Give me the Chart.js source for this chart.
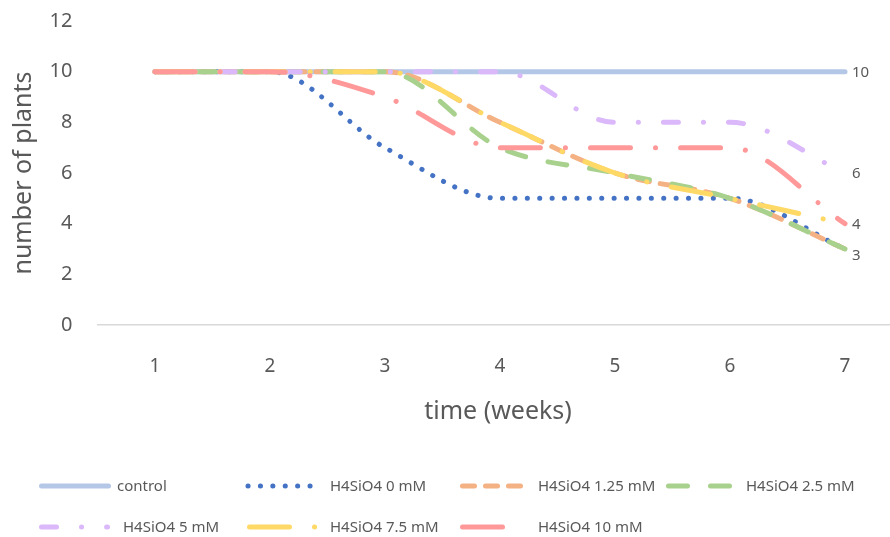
<!DOCTYPE html>
<html>
<head>
<meta charset="utf-8">
<script src="https://cdn.jsdelivr.net/npm/chart.js@4/dist/chart.umd.min.js"></script>
<style>
  html, body { margin: 0; padding: 0; background: #fff; overflow: hidden; }
  #wrap { width: 910px; height: 537px; }
</style>
</head>
<body>
<div id="wrap"><canvas id="c" width="910" height="537"></canvas></div>
<script>
// Weeks on the x axis
const weeks = ['1', '2', '3', '4', '5', '6', '7'];

// Number of surviving plants per treatment
const control = [10, 10, 10, 10, 10, 10, 10];
const h4sio4_0 = [10, 10, 7, 5, 5, 5, 3];
const h4sio4_125 = [10, 10, 10, 8, 6, 5, 3];
const h4sio4_25 = [10, 10, 10, 7, 6, 5, 3];
const h4sio4_5 = [10, 10, 10, 10, 8, 8, 6];
const h4sio4_75 = [10, 10, 10, 8, 6, 5, 4];
const h4sio4_10 = [10, 10, 9, 7, 7, 7, 4];

const seriesNames = ['control', 'H4SiO4 0 mM', 'H4SiO4 1.25 mM', 'H4SiO4 2.5 mM',
                     'H4SiO4 5 mM', 'H4SiO4 7.5 mM', 'H4SiO4 10 mM'];
const seriesValues = [control, h4sio4_0, h4sio4_125, h4sio4_25, h4sio4_5, h4sio4_75, h4sio4_10];

// Axis range
const yMin = 0, yMax = 12, yStep = 2;

// Series whose final value is printed at the end of the line
const endLabelSeries = [0, 4, 6, 3];

const FONT = '"Noto Sans", "Open Sans", sans-serif';
const TEXT = '#595959';
const colors = ['#B4C7E7', '#4472C4', '#F4B183', '#A9D18E', '#DAB8FA', '#FFD966', '#FF9999'];
const dashes = [
  [],                    // solid
  [0.1, 12.3],           // round dots
  [12, 11],              // dash
  [19, 23],              // long dash
  [15, 25, 0.1, 25],     // dash dot
  [40, 25, 0.1, 25],     // long dash dot
  [40, 25, 0.1, 25]      // long dash dot
];
const LW = 5;

// Legend layout: [lineStartX, lineEndX, textX, y]
const legendSlots = [
  [41.5, 108.5, 117, 486],
  [248, 312, 330, 486],
  [462.5, 521, 538, 486],
  [668.5, 730, 746, 486],
  [41.5, 107.5, 123, 527],
  [249.5, 316, 330, 527],
  [462.5, 503, 538, 527]
];

const datasets = seriesValues.map((vals, i) => ({
  label: seriesNames[i],
  data: vals,
  borderColor: colors[i],
  backgroundColor: colors[i],
  borderWidth: LW,
  borderDash: dashes[i],
  borderCapStyle: 'round',
  borderJoinStyle: 'round',
  pointRadius: 0,
  pointHoverRadius: 0,
  cubicInterpolationMode: 'monotone',
  fill: false,
  order: seriesValues.length - i
}));

const extras = {
  id: 'extras',
  afterDraw(chart) {
    const ctx = chart.ctx;
    const xs = chart.scales.x, ys = chart.scales.y;
    ctx.save();
    // axis titles
    ctx.fillStyle = TEXT;
    ctx.font = '25px ' + FONT;
    ctx.textAlign = 'center';
    ctx.textBaseline = 'middle';
    ctx.fillText('time (weeks)', 498, 412);
    ctx.save();
    ctx.translate(24, 173);
    ctx.rotate(-Math.PI / 2);
    ctx.fillText('number of plants', 0, 0);
    ctx.restore();

    // end-of-line value labels
    ctx.font = '15px ' + FONT;
    ctx.textAlign = 'left';
    const last = weeks.length - 1;
    endLabelSeries.forEach(si => {
      const v = seriesValues[si][last];
      const px = xs.getPixelForValue(last) + 7;
      let py = ys.getPixelForValue(v) + 1;
      if (si === 3) py += 6;
      ctx.fillText(String(v), px, py);
    });

    // legend
    seriesNames.forEach((name, i) => {
      const [x0, x1, tx, y] = legendSlots[i];
      ctx.beginPath();
      ctx.strokeStyle = colors[i];
      ctx.lineWidth = LW;
      ctx.lineCap = 'round';
      ctx.setLineDash(dashes[i]);
      ctx.moveTo(x0, y);
      ctx.lineTo(x1, y);
      ctx.stroke();
      ctx.setLineDash([]);
      ctx.fillStyle = TEXT;
      ctx.font = '15px ' + FONT;
      ctx.textBaseline = 'middle';
      ctx.fillText(name, tx, y + 1);
    });
    ctx.restore();
  }
};

new Chart(document.getElementById('c'), {
  type: 'line',
  data: { labels: weeks, datasets },
  options: {
    responsive: false,
    animation: false,
    devicePixelRatio: 1,
    layout: { padding: { left: 0, right: 7.5, top: 21, bottom: 0 } },
    plugins: { legend: { display: false }, tooltip: { enabled: false } },
    scales: {
      x: {
        offset: true,
        grid: { display: false, drawTicks: false },
        border: { display: true, color: '#D9D9D9', width: 1.5 },
        ticks: { color: TEXT, font: { size: 19, family: FONT }, padding: 30, maxRotation: 0 },
        afterFit(s) { s.height = 537 - 325; s.paddingTop = 0; s.paddingBottom = 0; }
      },
      y: {
        min: yMin, max: yMax,
        grid: { display: false, drawTicks: false },
        border: { display: false },
        ticks: { stepSize: yStep, color: TEXT, font: { size: 20, family: FONT }, padding: 25 },
        afterFit(s) { s.width = 97.5; s.paddingTop = 0; s.paddingBottom = 0; }
      }
    }
  },
  plugins: [extras]
});
</script>
</body>
</html>
